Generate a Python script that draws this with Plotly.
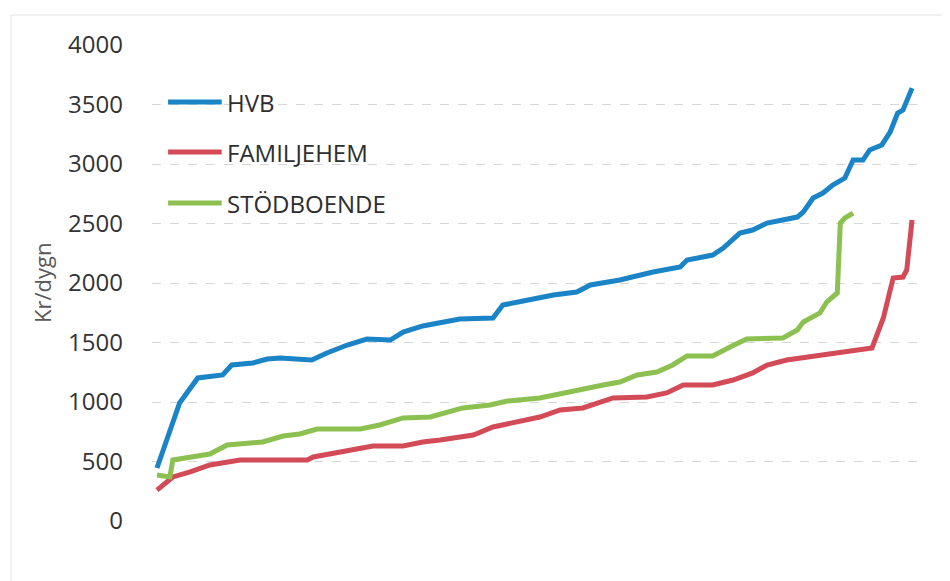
import plotly.graph_objects as go

# ---- data (rank of placement, 0-100 scale; cost in Kr/dygn) ----
hvb_rank = [0, 3.0, 5.4, 8.7, 9.9, 12.7, 14.6, 16.3, 20.5, 22.5, 25.2, 27.8, 30.9, 32.6,
            35.2, 37.5, 40.1, 44.5, 45.8, 48.5, 50.7, 52.5, 55.6, 57.4, 61.3, 65.7, 69.3,
            70.2, 73.6, 75.0, 77.2, 78.9, 80.8, 84.8, 85.6, 86.9, 88.2, 89.5, 91.1, 92.2,
            93.5, 94.4, 96.0, 97.1, 98.1, 98.8, 100]
hvb_cost = [445, 992, 1202, 1227, 1311, 1328, 1361, 1370, 1353, 1412, 1479, 1529, 1521, 1588,
            1639, 1664, 1697, 1706, 1815, 1849, 1882, 1899, 1924, 1983, 2025, 2092, 2134,
            2193, 2235, 2294, 2420, 2445, 2504, 2554, 2597, 2714, 2756, 2823, 2882, 3033,
            3033, 3118, 3160, 3269, 3428, 3453, 3638]

fam_rank = [0, 2.1, 4.4, 7.0, 11.0, 15.4, 19.9, 20.7, 23.3, 25.2, 28.6, 32.6, 35.2, 37.5,
            41.9, 44.5, 46.8, 50.7, 53.4, 56.4, 60.4, 64.9, 67.5, 69.7, 73.6, 76.3, 78.9,
            80.8, 83.4, 87.8, 90.5, 92.2, 94.7, 96.2, 97.1, 97.5, 98.8, 99.3, 100]
fam_cost = [260, 370, 412, 471, 513, 513, 513, 538, 571, 597, 630, 630, 664, 681,
            723, 790, 824, 874, 933, 950, 1034, 1042, 1076, 1143, 1143, 1185, 1244,
            1311, 1353, 1395, 1412, 1437, 1454, 1706, 1941, 2042, 2050, 2109, 2529]

stod_rank = [0, 1.7, 2.1, 4.4, 7.0, 9.3, 11.9, 14.0, 16.7, 18.9, 21.2, 26.9, 29.5, 32.6,
             36.2, 38.4, 40.5, 44.1, 46.4, 50.7, 55.6, 59.1, 61.3, 63.6, 66.2, 68.3, 70.2,
             73.6, 75.9, 78.1, 82.9, 84.8, 85.6, 87.8, 88.7, 90.1, 90.5, 91.1, 92.2]
stod_cost = [387, 370, 513, 538, 563, 639, 655, 664, 714, 731, 773, 773, 807, 866,
             874, 916, 950, 975, 1008, 1034, 1101, 1143, 1168, 1227, 1252, 1311, 1387,
             1387, 1462, 1529, 1538, 1605, 1672, 1748, 1840, 1916, 2504, 2546, 2588]

series_names = ["HVB", "FAMILJEHEM", "STÖDBOENDE"]
series_colors = ["#1b84c6", "#d24b57", "#8cc152"]
y_ticks = [0, 500, 1000, 1500, 2000, 2500, 3000, 3500, 4000]
y_title = "Kr/dygn"

FONT = "Open Sans"

fig = go.Figure()
for name, xs, ys, col in zip(series_names,
                             [hvb_rank, fam_rank, stod_rank],
                             [hvb_cost, fam_cost, stod_cost],
                             series_colors):
    fig.add_trace(go.Scatter(x=xs, y=ys, mode="lines", name=name,
                             line=dict(color=col, width=5), showlegend=False))

# custom legend (long line samples like the original)
leg_y = [0.880, 0.775, 0.668]
for name, col, ly in zip(series_names, series_colors, leg_y):
    fig.add_shape(type="line", xref="paper", yref="paper",
                  x0=0.021, x1=0.091, y0=ly, y1=ly,
                  line=dict(color=col, width=5))
    fig.add_annotation(xref="paper", yref="paper", x=0.0955, y=ly,
                       text=name, showarrow=False, xanchor="left", yanchor="middle",
                       font=dict(family=FONT, size=24, color="#2e2e2e"))

# y-axis title placed like the original
fig.add_annotation(xref="paper", yref="paper", x=-0.1436, y=0.5,
                   text=y_title, showarrow=False, textangle=-90,
                   xanchor="center", yanchor="middle",
                   font=dict(family=FONT, size=22, color="#595959"))

# chart frame
fig.add_shape(type="rect", xref="paper", yref="paper",
              x0=-0.184, x1=1.2, y0=-0.3, y1=1.063,
              line=dict(color="#e2e2e2", width=1), layer="below")

fig.update_layout(
    width=950, height=581,
    margin=dict(l=144, r=40, t=37, b=68),
    paper_bgcolor="white", plot_bgcolor="white",
    font=dict(family=FONT),
    xaxis=dict(range=[-0.66, 100.79], visible=False, showgrid=False, zeroline=False),
    yaxis=dict(range=[0, 4000], tickvals=y_ticks, ticks="",
               showgrid=True, gridcolor="#d6d6d6", gridwidth=1, griddash="dash",
               zeroline=False, showline=False,
               tickfont=dict(family=FONT, size=24, color="#333333"),
               ticklabelstandoff=28),
)

fig.write_html("out.html")
